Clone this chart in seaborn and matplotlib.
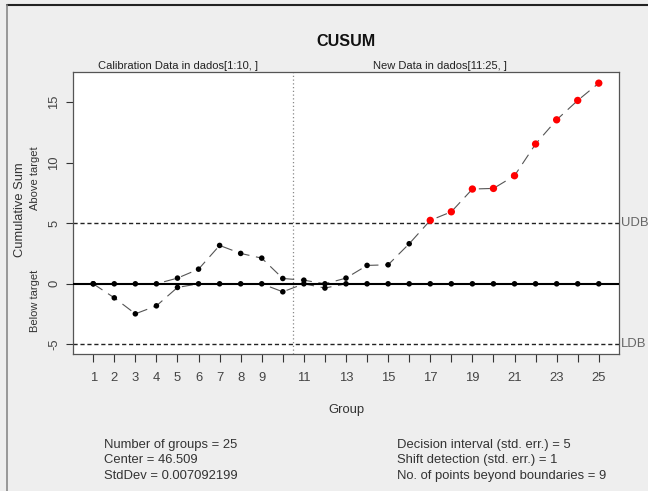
import numpy as np
import pandas as pd
import matplotlib
matplotlib.use("Agg")
import matplotlib.pyplot as plt
import matplotlib.transforms as mtransforms
from matplotlib.lines import Line2D
import seaborn as sns

# CUSUM statistics per group
groups = list(range(1, 26))
upper_cusum = [0, 0, 0, 0, 0.47, 1.21, 3.17, 2.51, 2.12, 0.44,
               0.30, 0, 0.47, 1.52, 1.57, 3.31, 5.24, 5.95, 7.83, 7.88,
               8.93, 11.55, 13.55, 15.15, 16.58]
lower_cusum = [0, -1.16, -2.48, -1.82, -0.30, 0, 0, 0, 0, -0.66,
               0, -0.35, 0, 0, 0, 0, 0, 0, 0, 0,
               0, 0, 0, 0, 0]
decision_interval = 5
n_calibration = 10
x_tick_labels = ["1", "2", "3", "4", "5", "6", "7", "8", "9", "",
                 "11", "", "13", "", "15", "", "17", "", "19", "",
                 "21", "", "23", "", "25"]
y_ticks = [-5, 0, 5, 10, 15]
stats_left = ["Number of groups = 25", "Center = 46.509", "StdDev = 0.007092199"]
stats_right = ["Decision interval (std. err.) = 5",
               "Shift detection (std. err.) = 1",
               "No. of points beyond boundaries = 9"]

sns.set_style("white")
plt.rcParams["font.family"] = ["Liberation Sans", "DejaVu Sans"]

W, H = 648, 491
fig = plt.figure(figsize=(W / 100, H / 100), dpi=100, facecolor="#eeeeee")
ax = fig.add_axes([73 / W, 1 - 354 / H, 546 / W, 282 / H])
ax.set_facecolor("white")

df = pd.DataFrame({
    "group": groups * 2,
    "cusum": upper_cusum + lower_cusum,
    "side": ["upper"] * len(groups) + ["lower"] * len(groups),
})
df["beyond"] = (df["cusum"] > decision_interval) | (df["cusum"] < -decision_interval)

TXT = "#333333"
TICK_TXT = "#444444"

# boundaries and reference lines
ax.axhline(decision_interval, color="#222222", lw=1.0, ls=(0, (3, 2)), zorder=1)
ax.axhline(-decision_interval, color="#222222", lw=1.0, ls=(0, (3, 2)), zorder=1)
ax.axvline(n_calibration + 0.5, color="#888888", lw=0.9, ls=(0, (1, 2)), zorder=1)

# dashed cusum traces
for side, sub in df.groupby("side"):
    sns.lineplot(data=sub, x="group", y="cusum", ax=ax, color="#555555",
                 lw=0.8, linestyle=(0, (10, 6)), zorder=2, legend=False)

ax.axhline(0, color="black", lw=1.5, zorder=3)

# points
inside = df[~df["beyond"]]
outside = df[df["beyond"]]
sns.scatterplot(data=inside, x="group", y="cusum", ax=ax, color="black",
                s=16, edgecolor="none", zorder=4, legend=False)
sns.scatterplot(data=outside, x="group", y="cusum", ax=ax, color="#ff0000",
                s=28, edgecolor="none", zorder=5, legend=False)

ax.set_xlim(0.04, 25.96)
ax.set_ylim(-5.8, 17.5)
ax.set_xticks(groups)
ax.set_xticklabels(x_tick_labels)
ax.set_yticks(y_ticks)
ax.set_yticklabels([str(v) for v in y_ticks], rotation=90, va="center")
ax.tick_params(axis="x", length=6, width=0.8, color="#333333", pad=7,
               labelsize=9.4, labelcolor=TICK_TXT, bottom=True)
ax.tick_params(axis="y", length=5, width=0.8, color="#333333", pad=4,
               labelsize=9.4, labelcolor=TICK_TXT, left=True)
ax.set_xlabel("")
ax.set_ylabel("")
for sp in ax.spines.values():
    sp.set_color("#555555")
    sp.set_linewidth(0.9)

# labels
fig.text(346 / W, 1 - 41 / H, "CUSUM", ha="center", va="center",
         fontsize=11.6, fontweight="bold", color="#111111")
fig.text(346 / W, 1 - 410 / H, "Group", ha="center", va="center",
         fontsize=9.4, color=TXT)
fig.text(20 / W, 1 - 210 / H, "Cumulative Sum", rotation=90,
         ha="center", va="center", fontsize=9.3, color=TXT)

bt = mtransforms.blended_transform_factory(fig.transFigure, ax.transData)
ax.text(35 / W, 8.75, "Above target", transform=bt, rotation=90,
        ha="center", va="center", fontsize=8, color=TXT)
ax.text(35 / W, -1.4, "Below target", transform=bt, rotation=90,
        ha="center", va="center", fontsize=8, color=TXT)

ax.text(0.192, 1.005, "Calibration Data in dados[1:10, ]", transform=ax.transAxes,
        ha="center", va="bottom", fontsize=8, color="#222222")
ax.text(0.672, 1.005, "New Data in dados[11:25, ]", transform=ax.transAxes,
        ha="center", va="bottom", fontsize=8, color="#222222")

ax.text(621 / W, decision_interval, "UDB", transform=bt, ha="left",
        va="center", fontsize=9.4, color="#666666", clip_on=False)
ax.text(621 / W, -decision_interval, "LDB", transform=bt, ha="left",
        va="center", fontsize=9.4, color="#666666", clip_on=False)

for i, (l, r) in enumerate(zip(stats_left, stats_right)):
    y = 1 - (445 + 15.4 * i) / H
    fig.text(104 / W, y, l, ha="left", va="center", fontsize=9.4, color=TXT)
    fig.text(397 / W, y, r, ha="left", va="center", fontsize=9.4, color=TXT)

# window frame
fig.add_artist(Line2D([7 / W, 1], [1 - 5 / H, 1 - 5 / H], transform=fig.transFigure,
                      color="#222222", lw=1.5))
fig.add_artist(Line2D([7 / W, 7 / W], [0, 1 - 5 / H], transform=fig.transFigure,
                      color="#888888", lw=1.2))

fig.savefig("out.png", dpi=100, facecolor=fig.get_facecolor())
